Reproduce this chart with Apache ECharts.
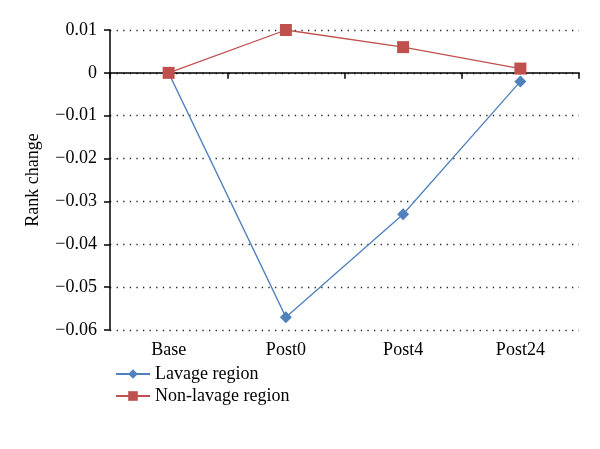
<!DOCTYPE html>
<html><head><meta charset="utf-8">
<script src="https://cdn.jsdelivr.net/npm/echarts@6/dist/echarts.min.js"></script>
<style>html,body{margin:0;padding:0;background:#fff}#c{width:600px;height:449px}</style>
</head><body><div id="c"></div>
<script>
const categories = ['Base', 'Post0', 'Post4', 'Post24'];
const lavage = [0, -0.057, -0.033, -0.002];
const nonLavage = [0, 0.010, 0.006, 0.001];
const seriesNames = ['Lavage region', 'Non-lavage region'];
const yMin = -0.06, yMax = 0.01, yStep = 0.01;

const FONT = 'Liberation Serif';
const chart = echarts.init(document.getElementById('c'));
chart.setOption({
  animation: false,
  backgroundColor: '#fff',
  textStyle: { fontFamily: FONT, color: '#000' },
  grid: { left: 110, right: 21, top: 30, bottom: 119 },
  legend: {
    orient: 'vertical', left: 110, top: 360, itemGap: 4,
    itemWidth: 34, itemHeight: 12,
    textStyle: { fontFamily: FONT, fontSize: 18, color: '#000' },
    data: seriesNames
  },
  xAxis: [
    {
      type: 'category', data: categories,
      axisLine: { onZero: true, lineStyle: { color: '#000', width: 1.5 } },
      axisTick: { show: true, length: 6, inside: false, lineStyle: { color: '#000', width: 1.5 } },
      axisLabel: { show: false },
      splitLine: { show: false }
    },
    {
      type: 'category', data: categories, position: 'bottom',
      axisLine: { show: false, onZero: false },
      axisTick: { show: false },
      axisLabel: { show: true, fontFamily: FONT, fontSize: 18, color: '#000', margin: 11 },
      splitLine: { show: false }
    }
  ],
  yAxis: {
    type: 'value', min: yMin, max: yMax, interval: yStep,
    name: 'Rank change', nameLocation: 'middle', nameGap: 68,
    nameTextStyle: { fontFamily: FONT, fontSize: 18, color: '#000' },
    axisLine: { show: true, lineStyle: { color: '#000', width: 1.5 } },
    axisTick: { show: true, length: 6, lineStyle: { color: '#000', width: 1.5 } },
    axisLabel: {
      fontFamily: FONT, fontSize: 18, color: '#000', margin: 13,
      formatter: v => { const r = Math.round(v * 100) / 100; return r === 0 ? '0' : String(r).replace('-', '\u2212'); }
    },
    splitLine: { show: true, lineStyle: { color: '#222', width: 1.3, type: [1.3, 5.3] } }
  },
  series: [
    {
      name: seriesNames[0], type: 'line', data: lavage, xAxisIndex: 0,
      symbol: 'diamond', symbolSize: 12,
      itemStyle: { color: '#4F81BD' }, lineStyle: { color: '#4F81BD', width: 1.3 }
    },
    {
      name: seriesNames[1], type: 'line', data: nonLavage, xAxisIndex: 0,
      symbol: 'rect', symbolSize: 12,
      itemStyle: { color: '#C0504D' }, lineStyle: { color: '#C0504D', width: 1.3 }
    }
  ]
});
</script></body></html>
